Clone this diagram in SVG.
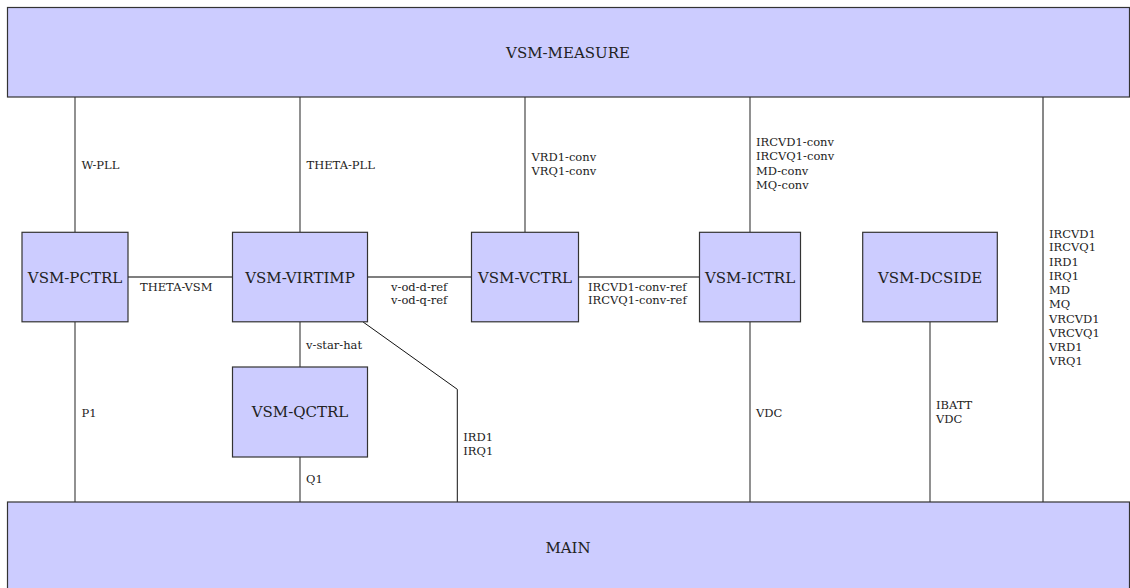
<svg xmlns="http://www.w3.org/2000/svg" width="1130" height="588" viewBox="0 0 1130 588">
<style>
.box{fill:#ccccff;stroke:#333;stroke-width:1.2}
text{font-family:'DejaVu Serif','Liberation Serif',serif}
.big{font-size:15px;fill:#222;text-anchor:middle}
.lbl{font-size:11.5px;fill:#222}
.c{fill:none;stroke:#555;stroke-width:1.3}
.k{fill:none;stroke:#111;stroke-width:1}
</style>
<rect width="1130" height="588" fill="#fff"/>
<g id="connectors">
<line class="c" x1="75" y1="97" x2="75" y2="232"/>
<line class="c" x1="75" y1="322" x2="75" y2="502"/>
<line class="c" x1="300" y1="97" x2="300" y2="232"/>
<line class="c" x1="300" y1="322" x2="300" y2="367"/>
<line class="c" x1="300" y1="457" x2="300" y2="502"/>
<line class="c" x1="525" y1="97" x2="525" y2="232"/>
<line class="c" x1="750" y1="97" x2="750" y2="232"/>
<line class="c" x1="750" y1="322" x2="750" y2="502"/>
<line class="c" x1="930" y1="322" x2="930" y2="502"/>
<line class="k" x1="1043" y1="97" x2="1043" y2="502"/>
<line class="c" x1="128" y1="277" x2="232.5" y2="277"/>
<line class="c" x1="367.5" y1="277" x2="471.5" y2="277"/>
<line class="c" x1="578.5" y1="277" x2="699.5" y2="277"/>
<polyline class="k" points="363.1,322 457.3,389.3 457.3,502"/>
<text class="lbl" x="81.5" y="168.5">W-PLL</text>
<text class="lbl" x="306.5" y="168.5">THETA-PLL</text>
<text class="lbl" x="531.5" y="161">VRD1-conv</text>
<text class="lbl" x="531.5" y="174.5">VRQ1-conv</text>
<text class="lbl" x="756" y="146">IRCVD1-conv</text>
<text class="lbl" x="756" y="160">IRCVQ1-conv</text>
<text class="lbl" x="756" y="175">MD-conv</text>
<text class="lbl" x="756" y="189">MQ-conv</text>
<text class="lbl" x="140" y="291">THETA-VSM</text>
<text class="lbl" x="391" y="291">v-od-d-ref</text>
<text class="lbl" x="391" y="304">v-od-q-ref</text>
<text class="lbl" x="588" y="291">IRCVD1-conv-ref</text>
<text class="lbl" x="588" y="304">IRCVQ1-conv-ref</text>
<text class="lbl" x="306" y="348.5">v-star-hat</text>
<text class="lbl" x="81.5" y="416.5">P1</text>
<text class="lbl" x="463.3" y="441">IRD1</text>
<text class="lbl" x="463.3" y="455">IRQ1</text>
<text class="lbl" x="306" y="483">Q1</text>
<text class="lbl" x="756" y="416.5">VDC</text>
<text class="lbl" x="936" y="409">IBATT</text>
<text class="lbl" x="936" y="423">VDC</text>
<text class="lbl" x="1049" y="237.5">IRCVD1</text>
<text class="lbl" x="1049" y="251">IRCVQ1</text>
<text class="lbl" x="1049" y="266">IRD1</text>
<text class="lbl" x="1049" y="279.5">IRQ1</text>
<text class="lbl" x="1049" y="294">MD</text>
<text class="lbl" x="1049" y="307.5">MQ</text>
<text class="lbl" x="1049" y="322.5">VRCVD1</text>
<text class="lbl" x="1049" y="336.5">VRCVQ1</text>
<text class="lbl" x="1049" y="351">VRD1</text>
<text class="lbl" x="1049" y="364.5">VRQ1</text>
</g>
<g id="vsm-measure"><rect class="box" x="7.5" y="7.5" width="1122" height="89.5"/><text class="big" x="568" y="58">VSM-MEASURE</text></g>
<g id="main"><rect class="box" x="7.5" y="502" width="1122" height="95"/><text class="big" x="568" y="553">MAIN</text></g>
<g id="vsm-pctrl"><rect class="box" x="22" y="232.3" width="106" height="89.5"/><text class="big" x="75" y="283">VSM-PCTRL</text></g>
<g id="vsm-virtimp"><rect class="box" x="232.5" y="232.3" width="135" height="89.5"/><text class="big" x="300" y="283">VSM-VIRTIMP</text></g>
<g id="vsm-vctrl"><rect class="box" x="471.5" y="232.3" width="107" height="89.5"/><text class="big" x="525" y="283">VSM-VCTRL</text></g>
<g id="vsm-ictrl"><rect class="box" x="699.5" y="232.3" width="101" height="89.5"/><text class="big" x="750" y="283">VSM-ICTRL</text></g>
<g id="vsm-dcside"><rect class="box" x="862.7" y="232.3" width="134.6" height="89.5"/><text class="big" x="930" y="283">VSM-DCSIDE</text></g>
<g id="vsm-qctrl"><rect class="box" x="232.5" y="367" width="135" height="90"/><text class="big" x="300" y="417">VSM-QCTRL</text></g>
</svg>
